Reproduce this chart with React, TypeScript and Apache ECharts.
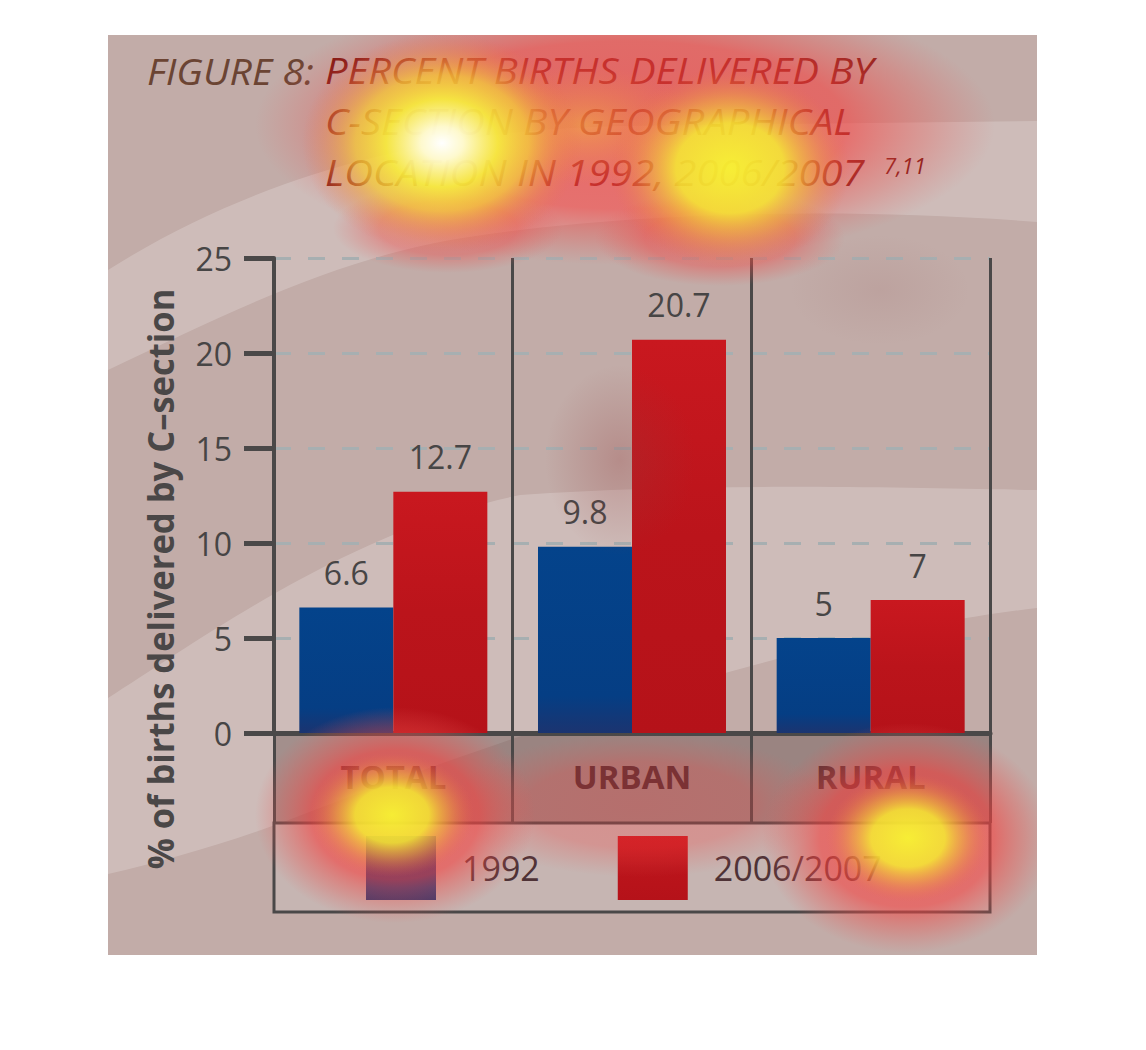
import React, { useEffect, useRef } from "react";
import * as echarts from "echarts";

// ---------- data ----------
const categories = ["TOTAL", "URBAN", "RURAL"];
const seriesNames = ["1992", "2006/2007"];
const values1992 = [6.6, 9.8, 5];
const values2007 = [12.7, 20.7, 7];
const yMin = 0;
const yMax = 25;
const yInterval = 5;
const titleLabel = "FIGURE 8:";
const titleLines = [
  "PERCENT BIRTHS DELIVERED BY",
  "C-SECTION BY GEOGRAPHICAL",
  "LOCATION IN 1992, 2006/2007",
];
const titleRefs = "7,11";
const yAxisTitle = "% of births delivered by C\u2013section";

// ---------- layout / style ----------
const FONT = '"Open Sans", "Noto Sans", sans-serif';
const W = 1146;
const H = 1050;
const PANEL = { x: 108, y: 35, w: 929, h: 920 };
const G = { left: 274, top: 258, right: 990, bottom: 733 };
const INK = "#4a4848";

type Stop = [number, string];
const blob = (cx: number, cy: number, rx: number, ry: number, stops: Stop[]) => ({
  type: "ellipse",
  silent: true,
  z: 100,
  shape: { cx, cy, rx, ry },
  style: {
    fill: {
      type: "radial",
      x: 0.5,
      y: 0.5,
      r: 0.5,
      colorStops: stops.map(([offset, color]) => ({ offset, color })),
    },
  },
});

const redHalo = (a: number): Stop[] => [
  [0, `rgba(246,62,62,${a})`],
  [0.6, `rgba(244,66,64,${a * 0.93})`],
  [0.82, `rgba(236,80,76,${a * 0.45})`],
  [1, "rgba(230,90,90,0)"],
];
const yellowCore = (white: boolean): Stop[] =>
  white
    ? [
        [0, "rgba(255,255,255,1)"],
        [0.15, "rgba(255,255,210,0.96)"],
        [0.4, "rgba(248,244,60,0.88)"],
        [0.62, "rgba(246,215,55,0.68)"],
        [0.85, "rgba(240,150,65,0.25)"],
        [1, "rgba(236,110,75,0)"],
      ]
    : [
        [0, "rgba(248,246,50,0.94)"],
        [0.45, "rgba(246,238,50,0.84)"],
        [0.68, "rgba(243,190,58,0.5)"],
        [1, "rgba(236,110,75,0)"],
      ];

export default function App() {
  const ref = useRef<HTMLDivElement>(null);

  useEffect(() => {
    document.body.style.margin = "0";
    if (!ref.current) return;

    echarts.graphic.registerShape(
      "bandTop",
      echarts.graphic.extendPath(
        "M108 270 C 250 180 420 130 620 126 L 1037 121 L 1037 222 C 820 205 600 215 450 240 C 330 262 230 312 108 370 Z",
        {}
      )
    );
    echarts.graphic.registerShape(
      "bandMid",
      echarts.graphic.extendPath(
        "M108 698 C 200 640 350 530 520 495 C 700 482 900 488 1037 490 L 1037 608 C 850 630 600 700 278 824 C 220 845 160 862 108 874 Z",
        {}
      )
    );

    const chart = echarts.init(ref.current, undefined, { renderer: "svg" });

    const blue = new echarts.graphic.LinearGradient(0, 0, 0, 1, [
      { offset: 0, color: "#04438b" },
      { offset: 0.8, color: "#053e84" },
      { offset: 1, color: "#1b3470" },
    ]);
    const red = new echarts.graphic.LinearGradient(0, 0, 0, 1, [
      { offset: 0, color: "#c9181f" },
      { offset: 0.5, color: "#bb141b" },
      { offset: 1, color: "#b51219" },
    ]);

    const barLabel = {
      show: true,
      position: "top",
      distance: 19,
      fontSize: 32,
      fontFamily: FONT,
      color: "#474545",
    };

    const titleStyle = (text: string, fill: string, size: number) => ({
      text,
      fontSize: size,
      fontStyle: "italic",
      fontFamily: FONT,
      fill,
      align: "left",
      verticalAlign: "middle",
    });

    const mask = (x: number, y: number, w: number, h: number) => ({
      type: "rect",
      z: 200,
      silent: true,
      shape: { x, y, width: w, height: h },
      style: { fill: "#ffffff" },
    });

    const option: any = {
      animation: false,
      backgroundColor: "#ffffff",
      grid: {
        left: G.left,
        top: G.top,
        right: W - G.right,
        bottom: H - G.bottom,
        containLabel: false,
      },
      legend: {
        left: 366,
        top: 836,
        padding: 0,
        itemWidth: 70,
        itemHeight: 64,
        itemGap: 78,
        icon: "rect",
        selectedMode: false,
        data: seriesNames,
        textStyle: {
          fontSize: 34,
          fontFamily: FONT,
          color: "#4e3236",
          padding: [0, 0, 0, 21],
        },
      },
      xAxis: {
        type: "category",
        data: categories,
        axisLine: { lineStyle: { color: INK, width: 5 } },
        axisTick: { show: true, length: 90, lineStyle: { color: INK, width: 3 } },
        axisLabel: {
          margin: 27,
          fontSize: 33,
          fontWeight: "bold",
          fontFamily: FONT,
          color: "#4a2c30",
        },
        splitLine: { show: true, lineStyle: { color: INK, width: 3 } },
      },
      yAxis: {
        type: "value",
        min: yMin,
        max: yMax,
        interval: yInterval,
        axisLine: { show: true, lineStyle: { color: INK, width: 4 } },
        axisTick: { show: true, length: 30, lineStyle: { color: INK, width: 5 } },
        axisLabel: { margin: 42, fontSize: 32, fontFamily: FONT, color: "#474545" },
        splitLine: {
          show: true,
          lineStyle: { color: "#a7afb1", width: 3, type: [17, 17] },
        },
      },
      series: [
        {
          name: seriesNames[0],
          type: "bar",
          data: values1992,
          barWidth: 94,
          barGap: "0%",
          itemStyle: { color: blue },
          label: barLabel,
        },
        {
          name: seriesNames[1],
          type: "bar",
          data: values2007,
          barWidth: 94,
          barGap: "0%",
          itemStyle: { color: red },
          label: barLabel,
        },
      ],
      graphic: [
        {
          type: "rect",
          z: -10,
          silent: true,
          shape: { x: PANEL.x, y: PANEL.y, width: PANEL.w, height: PANEL.h },
          style: { fill: "#c2aca8" },
        },
        { type: "bandTop", z: -9, silent: true, style: { fill: "rgba(255,255,255,0.2)" } },
        { type: "bandMid", z: -9, silent: true, style: { fill: "rgba(255,255,255,0.2)" } },
        {
          type: "rect",
          z: -5,
          silent: true,
          shape: { x: G.left, y: G.bottom, width: G.right - G.left, height: 90 },
          style: { fill: "rgba(70,50,48,0.32)" },
        },
        {
          type: "rect",
          z: 1,
          silent: true,
          shape: { x: G.left, y: G.bottom + 90, width: G.right - G.left, height: 89 },
          style: { fill: "rgba(215,212,212,0.22)", stroke: INK, lineWidth: 3 },
        },
        {
          type: "text",
          z: 5,
          x: 160,
          y: 579,
          rotation: Math.PI / 2,
          scaleX: 0.96,
          style: {
            text: yAxisTitle,
            fontSize: 36,
            fontWeight: "bold",
            fontFamily: FONT,
            fill: "#4a4747",
            align: "center",
            verticalAlign: "middle",
          },
        },
        {
          type: "text",
          z: 50,
          x: 147,
          y: 70,
          scaleX: 1.06,
          style: titleStyle(titleLabel, "#6b4433", 37),
        },
        ...titleLines.map((t, i) => ({
          type: "text",
          z: 50,
          x: 325,
          y: 70 + i * 51,
          scaleX: 1.08,
          style: titleStyle(t, "#7a140e", 37),
        })),
        {
          type: "text",
          z: 50,
          x: 884,
          y: 166,
          scaleX: 1.05,
          style: titleStyle(titleRefs, "#7a140e", 21),
        },
        // heat overlay
        blob(625, 125, 370, 140, redHalo(0.66)),
        blob(720, 238, 125, 48, redHalo(0.42)),
        blob(448, 228, 115, 45, redHalo(0.4)),
        blob(585, 125, 110, 60, [
          [0, "rgba(246,190,60,0.5)"],
          [1, "rgba(240,140,70,0)"],
        ]),
        blob(442, 143, 140, 110, yellowCore(true)),
        blob(730, 168, 120, 100, yellowCore(false)),
        blob(620, 460, 75, 95, [
          [0, "rgba(150,60,60,0.28)"],
          [1, "rgba(150,60,60,0)"],
        ]),
        blob(880, 290, 90, 55, [
          [0, "rgba(150,90,90,0.12)"],
          [1, "rgba(150,90,90,0)"],
        ]),
        blob(640, 805, 190, 72, redHalo(0.3)),
        blob(395, 815, 140, 108, redHalo(0.66)),
        blob(907, 838, 145, 115, redHalo(0.66)),
        blob(392, 815, 82, 62, yellowCore(false)),
        blob(908, 838, 82, 64, yellowCore(false)),
        // keep the heat inside the panel
        mask(0, 0, W, PANEL.y),
        mask(0, PANEL.y + PANEL.h, W, H - PANEL.y - PANEL.h),
        mask(0, 0, PANEL.x, H),
        mask(PANEL.x + PANEL.w, 0, W - PANEL.x - PANEL.w, H),
      ],
    };

    chart.setOption(option);
    return () => chart.dispose();
  }, []);

  return <div ref={ref} style={{ width: W, height: H, display: "block" }} />;
}
